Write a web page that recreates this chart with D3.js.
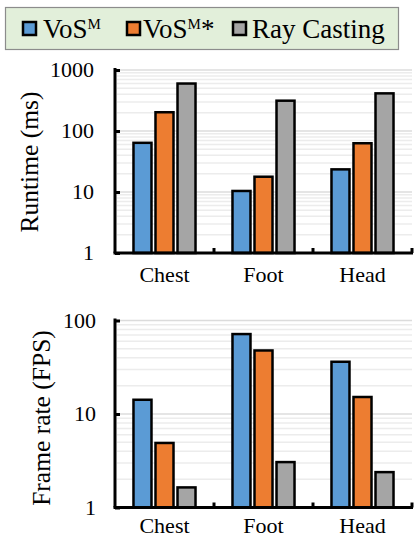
<!DOCTYPE html>
<html>
<head>
<meta charset="utf-8">
<script src="https://cdn.jsdelivr.net/npm/d3@7"></script>
<style>
  html, body { margin: 0; padding: 0; background: #fff; }
  text { font-family: "Liberation Serif", "Times New Roman", serif; fill: #000; }
</style>
</head>
<body>
<svg id="chart" width="414" height="539"></svg>
<script>
// data
const categories = ['Chest', 'Foot', 'Head'];
const seriesNames = ['VoSM', 'VoSM*', 'Ray Casting'];
const seriesColors = ['#5b9bd5', '#ed7d31', '#a5a5a5'];

const runtimeVoSM = [64, 10.4, 23.5];
const runtimeVoSMStar = [203, 17.8, 63];
const runtimeRayCasting = [600, 314, 414];

const fpsVoSM = [14.2, 71.6, 36.2];
const fpsVoSMStar = [4.9, 47.8, 15.2];
const fpsRayCasting = [1.64, 3.06, 2.39];

const runtimeTicks = [1, 10, 100, 1000];
const fpsTicks = [1, 10, 100];

const svg = d3.select('#chart');

// legend
const legend = svg.append('g');
legend.append('rect')
  .attr('x', 5.5).attr('y', 7.5).attr('width', 393).attr('height', 42)
  .attr('fill', '#e2efda').attr('stroke', '#8c8c8c').attr('stroke-width', 1.2);

const legendItems = [
  { x: 23, tx: 43, base: 'VoS', sup: 'M', after: '' },
  { x: 127, tx: 143, base: 'VoS', sup: 'M', after: '*' },
  { x: 233, tx: 252, base: 'Ray Casting', sup: '', after: '' }
];
legendItems.forEach((it, i) => {
  legend.append('rect')
    .attr('x', it.x).attr('y', 22).attr('width', 13).attr('height', 13)
    .attr('fill', seriesColors[i]).attr('stroke', '#000').attr('stroke-width', 2.5);
  const t = legend.append('text')
    .attr('x', it.tx).attr('y', 38).attr('font-size', 27);
  t.append('tspan').text(it.base);
  if (it.sup) {
    t.append('tspan').attr('font-size', 15).attr('dy', -9).text(it.sup);
    if (it.after) t.append('tspan').attr('font-size', 27).attr('dy', 9).text(it.after);
  }
});

function drawPanel(opts) {
  const g = svg.append('g');
  const x0 = d3.scaleBand().domain(categories).range([115, 412]).padding(0);
  const x1 = d3.scaleBand().domain(seriesNames).range([-33, 33])
    .paddingInner(0.182).paddingOuter(0.09);
  const y = d3.scaleLog().domain(opts.domain).range(opts.range);

  // gridlines at every log step
  const grid = [];
  for (let d = opts.domain[0]; d < opts.domain[1]; d *= 10) {
    for (let k = 1; k < 10; k++) grid.push(d * k);
  }
  grid.push(opts.domain[1]);
  g.append('g').selectAll('line').data(grid.filter(v => v > opts.domain[0]))
    .join('line')
    .attr('x1', 117).attr('x2', 412)
    .attr('y1', d => y(d)).attr('y2', d => y(d))
    .attr('stroke', d => opts.ticks.includes(d) ? '#dcdcdc' : '#ececec')
    .attr('stroke-width', 1.5);

  // bars
  const rows = categories.map((c, i) => ({
    cat: c,
    vals: opts.series.map((s, j) => ({ name: seriesNames[j], v: s[i], color: seriesColors[j] }))
  }));
  g.append('g').selectAll('g').data(rows).join('g')
    .attr('transform', d => `translate(${x0(d.cat) + x0.bandwidth() / 2},0)`)
    .selectAll('rect').data(d => d.vals).join('rect')
    .attr('x', d => x1(d.name))
    .attr('width', x1.bandwidth())
    .attr('y', d => y(d.v))
    .attr('height', d => y(opts.domain[0]) - y(d.v))
    .attr('fill', d => d.color)
    .attr('stroke', '#000').attr('stroke-width', 2.5);

  // y axis
  const yAxis = d3.axisRight(y).tickValues(opts.ticks).tickSize(5).tickFormat('');
  const ya = g.append('g').attr('transform', 'translate(115,0)').call(yAxis);
  ya.select('.domain').attr('d', `M0,${y(opts.domain[0])}V${y(opts.domain[1]) - 2}`)
    .attr('stroke', '#000').attr('stroke-width', 3);
  ya.selectAll('.tick line').attr('stroke', '#000').attr('stroke-width', 3);

  g.append('g').selectAll('text').data(opts.ticks).join('text')
    .attr('x', opts.labelX).attr('y', d => y(d)).attr('dy', '0.33em')
    .attr('text-anchor', 'end').attr('font-size', 22)
    .text(d => d);

  // x axis
  const base = y(opts.domain[0]);
  g.append('line').attr('x1', 113.5).attr('x2', 413).attr('y1', base).attr('y2', base)
    .attr('stroke', '#000').attr('stroke-width', 3);
  g.append('g').selectAll('line').data(categories).join('line')
    .attr('x1', d => Math.min(x0(d) + x0.bandwidth(), 412))
    .attr('x2', d => Math.min(x0(d) + x0.bandwidth(), 412))
    .attr('y1', base).attr('y2', base - 5)
    .attr('stroke', '#000').attr('stroke-width', 3);
  g.append('g').selectAll('text').data(categories).join('text')
    .attr('x', d => x0(d) + x0.bandwidth() / 2)
    .attr('y', opts.catY)
    .attr('text-anchor', 'middle').attr('font-size', 22)
    .text(d => d);

  // y title
  g.append('text')
    .attr('transform', `translate(${opts.titleX},${opts.titleY}) rotate(-90)`)
    .attr('text-anchor', 'middle').attr('font-size', 25.5)
    .text(opts.title);
}

drawPanel({
  domain: [1, 1000], range: [253, 70], ticks: runtimeTicks,
  series: [runtimeVoSM, runtimeVoSMStar, runtimeRayCasting],
  labelX: 94, catY: 282, title: 'Runtime (ms)', titleX: 38, titleY: 162
});

drawPanel({
  domain: [1, 100], range: [507.5, 320.5], ticks: fpsTicks,
  series: [fpsVoSM, fpsVoSMStar, fpsRayCasting],
  labelX: 96, catY: 533, title: 'Frame rate (FPS)', titleX: 50, titleY: 418
});
</script>
</body>
</html>
